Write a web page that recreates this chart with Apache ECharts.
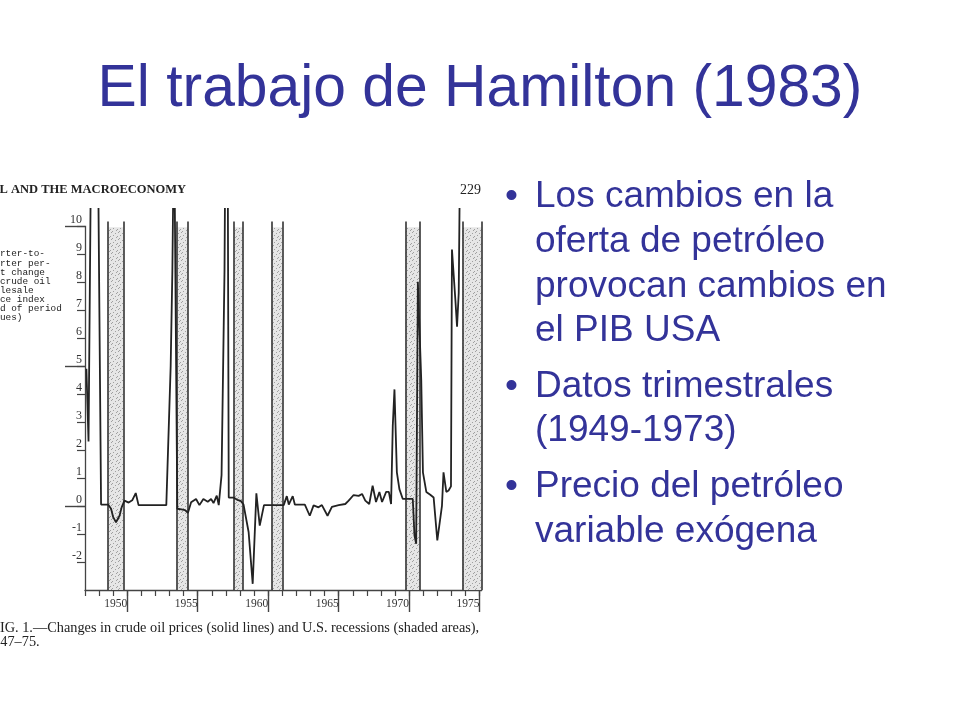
<!DOCTYPE html>
<html><head><meta charset="utf-8">
<script src="https://cdn.jsdelivr.net/npm/echarts@6/dist/echarts.min.js"></script>
<style>html,body{margin:0;padding:0;background:#fff}#c{width:960px;height:720px}</style>
</head><body><div id="c"></div>
<script>
// ---- data ----
const years = [1947.10,1947.25,1947.45,1947.90,1948.14,1948.64,1948.85,1949.00,1949.20,1949.45,1949.60,1949.80,1950.10,1950.35,1950.60,1950.80,1952.77,1953.08,1953.20,1953.32,1953.42,1953.55,1953.85,1954.10,1954.30,1954.53,1954.88,1955.12,1955.40,1955.71,1955.95,1956.12,1956.35,1956.49,1956.69,1956.90,1956.97,1957.12,1957.20,1957.54,1957.80,1958.05,1958.25,1958.61,1958.90,1959.16,1959.40,1959.70,1961.10,1961.32,1961.46,1961.74,1961.89,1962.60,1962.95,1963.22,1963.57,1963.81,1964.21,1964.52,1965.00,1965.47,1965.71,1965.80,1966.06,1966.42,1966.66,1966.89,1967.17,1967.41,1967.65,1967.89,1968.08,1968.37,1968.56,1968.72,1968.84,1968.96,1969.13,1969.31,1969.55,1970.26,1970.38,1970.50,1970.62,1970.86,1970.98,1971.22,1971.50,1971.74,1972.00,1972.33,1972.44,1972.64,1972.80,1972.97,1973.04,1973.28,1973.40,1973.52,1973.64,1974.00];
const oilChange = [4.9,2.3,14,14,0.05,0.05,-0.1,-0.4,-0.58,-0.35,-0.05,0.19,0.12,0.2,0.46,0.03,0.03,5.0,8.4,14,14,-0.1,-0.12,-0.15,-0.25,0.13,0.25,0.03,0.25,0.15,0.25,0.1,0.37,0.03,1.1,8.4,14,14,0.3,0.3,0.22,0.18,0.05,-0.93,-2.78,0.45,-0.7,0.03,0.03,0.35,0.05,0.35,0.05,0.05,-0.35,0.02,-0.05,0.03,-0.35,-0.03,0.03,0.07,0.19,0.15,0.39,0.36,0.43,0.19,0.07,0.72,0.14,0.5,0.14,0.5,0.5,0.07,2.86,4.16,1.2,0.6,0.25,0.25,-1.06,-1.35,8.0,4.5,1.2,0.5,0.4,0.3,-1.23,0.0,1.2,0.5,0.55,0.7,9.15,7.37,6.4,7.6,14,14];
const recessionStart = [1948.64, 1953.50, 1957.58, 1960.25, 1969.75, 1973.78];
const recessionEnd   = [1949.72, 1954.30, 1958.20, 1961.03, 1970.75, 1975.15];
const yTicks = [-2,-1,0,1,2,3,4,5,6,7,8,9,10];
const yLongTicks = [0,5,10];
const xMinorTicks = [1947,1948,1949,1950,1951,1952,1953,1954,1955,1956,1957,1958,1959,1960,1961,1962,1963,1964,1965,1966,1967,1968,1969,1970,1971,1972,1973,1974,1975];
const xMajorTicks = [1950,1955,1960,1965,1970,1975];
const titleText = "El trabajo de Hamilton (1983)";
const bullets = [
  ["Los cambios en la","oferta de petróleo","provocan cambios en","el PIB USA"],
  ["Datos trimestrales","(1949-1973)"],
  ["Precio del petróleo","variable exógena"]
];
const yAxisTitle = ["Quarter-to-","quarter per-","cent change","in crude oil","wholesale","price index","(end of period","values)"];
const headerText = "OIL AND THE MACROECONOMY";
const pageNumber = "229";
const caption1 = "FIG. 1.—Changes in crude oil prices (solid lines) and U.S. recessions (shaded areas),";
const caption2 = "1947–75.";

// ---- stipple pattern for recession shading ----
const pc = document.createElement('canvas'); pc.width = 7; pc.height = 7;
const g = pc.getContext('2d');
g.fillStyle = '#e6e6e6'; g.fillRect(0,0,7,7);
g.fillStyle = '#a0a0a0';
[[0,0],[3,2],[1,4],[5,5],[6,1],[4,6]].forEach(p => g.fillRect(p[0],p[1],1,1));

const X_MIN = 1947, X_MAX = 1975.15, Y_MIN = -3, Y_MAX = 10.6;
const BLUE = '#333399';
const serif = '"Liberation Serif", "DejaVu Serif", serif';
const sans = '"Liberation Sans", Arial, sans-serif';

const lineData = years.map((y,i) => [y, oilChange[i]]);
const areaData = recessionStart.map((s,i) => [{xAxis: s, yAxis: Y_MIN}, {xAxis: recessionEnd[i], yAxis: 9.95}]);
const borderData = [];
recessionStart.forEach((s,i) => {
  borderData.push([{coord:[s, Y_MIN]},{coord:[s, 10.15]}]);
  borderData.push([{coord:[recessionEnd[i], Y_MIN]},{coord:[recessionEnd[i], 10.15]}]);
});
// y axis line (drawn up to 10 as in the figure)
borderData.push([{coord:[X_MIN, Y_MIN], lineStyle:{width:1.3, color:'#444'}},{coord:[X_MIN, 10]}]);

// ---- graphic texts ----
const graphics = [];
graphics.push({type:'text', z:100, style:{x:480, y:90, text:titleText, font:'normal 58.8px ' + sans, fill:BLUE, textAlign:'center', textVerticalAlign:'middle', align:'center', verticalAlign:'middle'}});
let by = 197;
const LH = 44.7, GAP = 10.7;
bullets.forEach(lines => {
  graphics.push({type:'text', z:100, style:{x:505, y:by, text:'•', font:'normal 37px ' + sans, fill:BLUE, textVerticalAlign:'middle', verticalAlign:'middle'}});
  lines.forEach((t,k) => {
    graphics.push({type:'text', z:100, style:{x:535, y:by + k*LH, text:t, font:'normal 37px ' + sans, fill:BLUE, textVerticalAlign:'middle', verticalAlign:'middle'}});
  });
  by += lines.length*LH + GAP;
});
graphics.push({type:'text', z:100, style:{x:-15, y:190, text:headerText, font:'bold 12.5px ' + serif, fill:'#222', textVerticalAlign:'middle', verticalAlign:'middle'}});
graphics.push({type:'text', z:100, style:{x:460, y:190, text:pageNumber, font:'normal 14px ' + serif, fill:'#222', textVerticalAlign:'middle', verticalAlign:'middle'}});
yAxisTitle.forEach((t,k) => {
  graphics.push({type:'text', z:100, style:{x:-17, y:254 + k*9.05, text:t, font:'normal 9.4px "Liberation Mono", "DejaVu Sans Mono", monospace', fill:'#222', textVerticalAlign:'middle', verticalAlign:'middle'}});
});
graphics.push({type:'text', z:100, style:{x:-8, y:628, text:caption1, font:'normal 14.3px ' + serif, fill:'#222', textVerticalAlign:'middle', verticalAlign:'middle'}});
graphics.push({type:'text', z:100, style:{x:-14, y:642, text:caption2, font:'normal 14.3px ' + serif, fill:'#222', textVerticalAlign:'middle', verticalAlign:'middle'}});

const chart = echarts.init(document.getElementById('c'), null, {renderer:'canvas'});
chart.setOption({
  animation: false,
  backgroundColor: '#ffffff',
  grid: {left: 85, right: 478.3, top: 209, bottom: 130, containLabel: false},
  xAxis: [
    {type:'value', min:X_MIN, max:X_MAX, splitLine:{show:false},
     axisLine:{show:true, onZero:false, lineStyle:{color:'#444', width:1.3}},
     axisTick:{show:true, customValues:xMinorTicks, length:6, lineStyle:{color:'#444', width:1.2}},
     axisLabel:{show:false}},
    {type:'value', min:X_MIN, max:X_MAX, position:'bottom', splitLine:{show:false},
     axisLine:{show:false, onZero:false},
     axisTick:{show:true, customValues:xMajorTicks, length:22, lineStyle:{color:'#444', width:1.4}},
     axisLabel:{show:true, customValues:xMajorTicks, formatter:(v) => String(Math.round(v)), align:'right', margin:8, fontFamily:serif, fontSize:11.5, color:'#333'}}
  ],
  yAxis: [
    {type:'value', min:Y_MIN, max:Y_MAX, splitLine:{show:false},
     axisLine:{show:false, onZero:false},
     axisTick:{show:true, customValues:yTicks, length:8, lineStyle:{color:'#444', width:1.2}},
     axisLabel:{show:true, customValues:yTicks, formatter:(v) => String(Math.round(v)), verticalAlign:'bottom', margin:3, fontFamily:serif, fontSize:12, color:'#333'}},
    {type:'value', min:Y_MIN, max:Y_MAX, position:'left', splitLine:{show:false},
     axisLine:{show:false, onZero:false},
     axisTick:{show:true, customValues:yLongTicks, length:20, lineStyle:{color:'#444', width:1.4}},
     axisLabel:{show:false}}
  ],
  series: [
    {type:'line', name:'rec', data:[], z:1, silent:true,
     markArea:{silent:true, itemStyle:{color:{image:pc, repeat:'repeat'}}, data:areaData},
     markLine:{silent:true, symbol:['none','none'], label:{show:false}, lineStyle:{color:'#333', width:1.6, type:'solid'}, data:borderData}
    },
    {type:'line', name:'oil', data:lineData, z:5, clip:true, showSymbol:false, symbol:'none', smooth:false,
     lineStyle:{color:'#222', width:1.8}}
  ],
  graphic: graphics
});
</script></body></html>
